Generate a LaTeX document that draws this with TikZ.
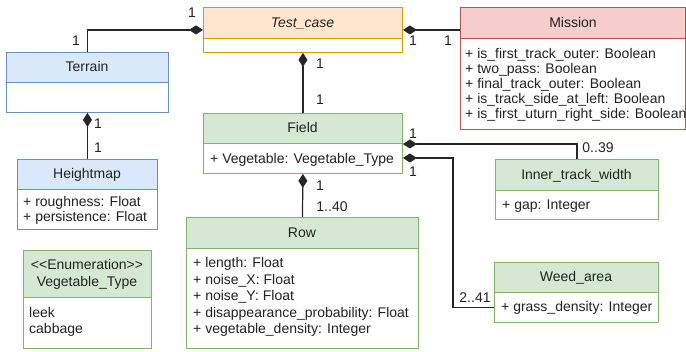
\documentclass[tikz,border=0pt]{standalone}
\usepackage{fontspec}
\setmainfont{Liberation Sans}
\usetikzlibrary{arrows.meta,calc}
\definecolor{blueS}{HTML}{6C8EBF}
\definecolor{blueF}{HTML}{DAE8FC}
\definecolor{greenS}{HTML}{82B366}
\definecolor{greenF}{HTML}{D5E8D4}
\definecolor{orangeS}{HTML}{D79B00}
\definecolor{orangeF}{HTML}{FFE6CC}
\definecolor{redS}{HTML}{B85450}
\definecolor{redF}{HTML}{F8CECC}
\definecolor{textc}{HTML}{222222}
\newcommand\umlclass[8]{%
  \node[draw=#7, fill=white, line width=0.9pt, minimum width=#4pt, minimum height=#5pt, anchor=north west, inner sep=0pt] (#1) at (#2,#3) {};
  \draw[draw=#7, fill=#8, line width=0.9pt] (#1.north west) rectangle ($(#1.north east)+(0,#6)$);
}
\begin{document}
\begin{tikzpicture}[x=1pt,y=-1pt,
  txt/.style={font=\fontsize{14}{16}\selectfont, text=textc, inner sep=0pt},
  title/.style={txt, anchor=base},
  attr/.style={txt, anchor=base west, align=left},
  mult/.style={txt, anchor=center},
  comp/.style={line width=1.2pt, draw=black!85, arrows={Diamond[length=14pt,width=9pt]-}}]
\useasboundingbox (0,0) rectangle (686,352);
% classes
\umlclass{terrain}{6}{52}{162}{60}{30}{blueS}{blueF}
\umlclass{tc}{203}{7}{199}{45}{31}{orangeS}{orangeF}
\umlclass{mission}{460}{7}{225}{122}{31}{redS}{redF}
\umlclass{field}{203}{113}{199}{60}{30}{greenS}{greenF}
\umlclass{heightmap}{17}{159}{140}{70}{30}{blueS}{blueF}
\umlclass{inner}{495}{159}{163}{60}{31}{greenS}{greenF}
\umlclass{row}{186}{217}{232}{131}{31}{greenS}{greenF}
\umlclass{weed}{494}{262}{164}{60}{30}{greenS}{greenF}
\umlclass{enum}{23}{250}{128}{98}{47}{greenS}{greenF}
% titles
\node[title] (tTerrain) at (87,72) {Terrain};
\node[title, font=\fontsize{14}{16}\selectfont\itshape] (tTc) at (302.5,27.5) {Test\_case};
\node[title] (tMission) at (573,27.5) {Mission};
\node[title] (tField) at (302.5,133) {Field};
\node[title] (tHeight) at (87,179) {Heightmap};
\node[title] (tInner) at (576.5,179.5) {Inner\_track\_width};
\node[title] (tRow) at (302,237.5) {Row};
\node[title] (tWeed) at (576,282) {Weed\_area};
\node[title, align=center, font=\fontsize{14}{17}\selectfont] (tEnum) at (87,287) {{<}{<}Enumeration{>}{>}\\Vegetable\_Type};
% attributes (base = baseline of last line)
\node[attr, font=\fontsize{14}{15}\selectfont] (aMission) at (465,119) {+ is\_first\_track\_outer: Boolean\\+ two\_pass: Boolean\\+ final\_track\_outer: Boolean\\+ is\_track\_side\_at\_left: Boolean\\+ is\_first\_uturn\_right\_side: Boolean};
\node[attr] (aField) at (210,164) {+ Vegetable: Vegetable\_Type};
\node[attr, font=\fontsize{14}{14.5}\selectfont] (aHeight) at (23,221.5) {+ roughness: Float\\+ persistence: Float};
\node[attr] (aInner) at (502,210) {+ gap: Integer};
\node[attr, font=\fontsize{14}{16.5}\selectfont] (aRow) at (193,334) {+ length: Float\\+ noise\_X: Float\\+ noise\_Y: Float\\+ disappearance\_probability: Float\\+ vegetable\_density: Integer};
\node[attr] (aWeed) at (501,312) {+ grass\_density: Integer};
\node[attr, font=\fontsize{14}{16}\selectfont] (aEnum) at (29,334) {leek\\cabbage};
% connectors
\draw[comp] (tc.west) -| (terrain.north);
\draw[comp] (tc.east) -- (tc.east -| mission.west);
\draw[comp] (tc.south) -- (field.north);
\draw[comp] (terrain.south) -- (heightmap.north);
\coordinate (f1) at ($(field.north east)+(0,31)$);
\coordinate (f2) at ($(field.north east)+(0,45)$);
\draw[comp] (f1) -| (inner.north);
\coordinate (wa) at ($(weed.south west)+(0,-15)$);
\draw[comp] (f2) -| ($(wa)+(-41,0)$) -- (wa);
\draw[comp] (field.south) -- (row.north);
% multiplicities
\node[mult] (m1) at (192,13) {1};
\node[mult] (m2) at (76,41) {1};
\node[mult] (m3) at (413,41) {1};
\node[mult] (m4) at (448,41) {1};
\node[mult] (m5) at (320,64) {1};
\node[mult] (m6) at (320,100) {1};
\node[mult] (m7) at (98,124) {1};
\node[mult] (m8) at (98,148) {1};
\node[mult] (m9) at (413,134) {1};
\node[mult] (m10) at (598,148) {0..39};
\node[mult] (m11) at (413,172) {1};
\node[mult] (m12) at (475,298) {2..41};
\node[mult] (m13) at (320,186) {1};
\node[mult] (m14) at (332,207) {1..40};
\end{tikzpicture}
\end{document}
